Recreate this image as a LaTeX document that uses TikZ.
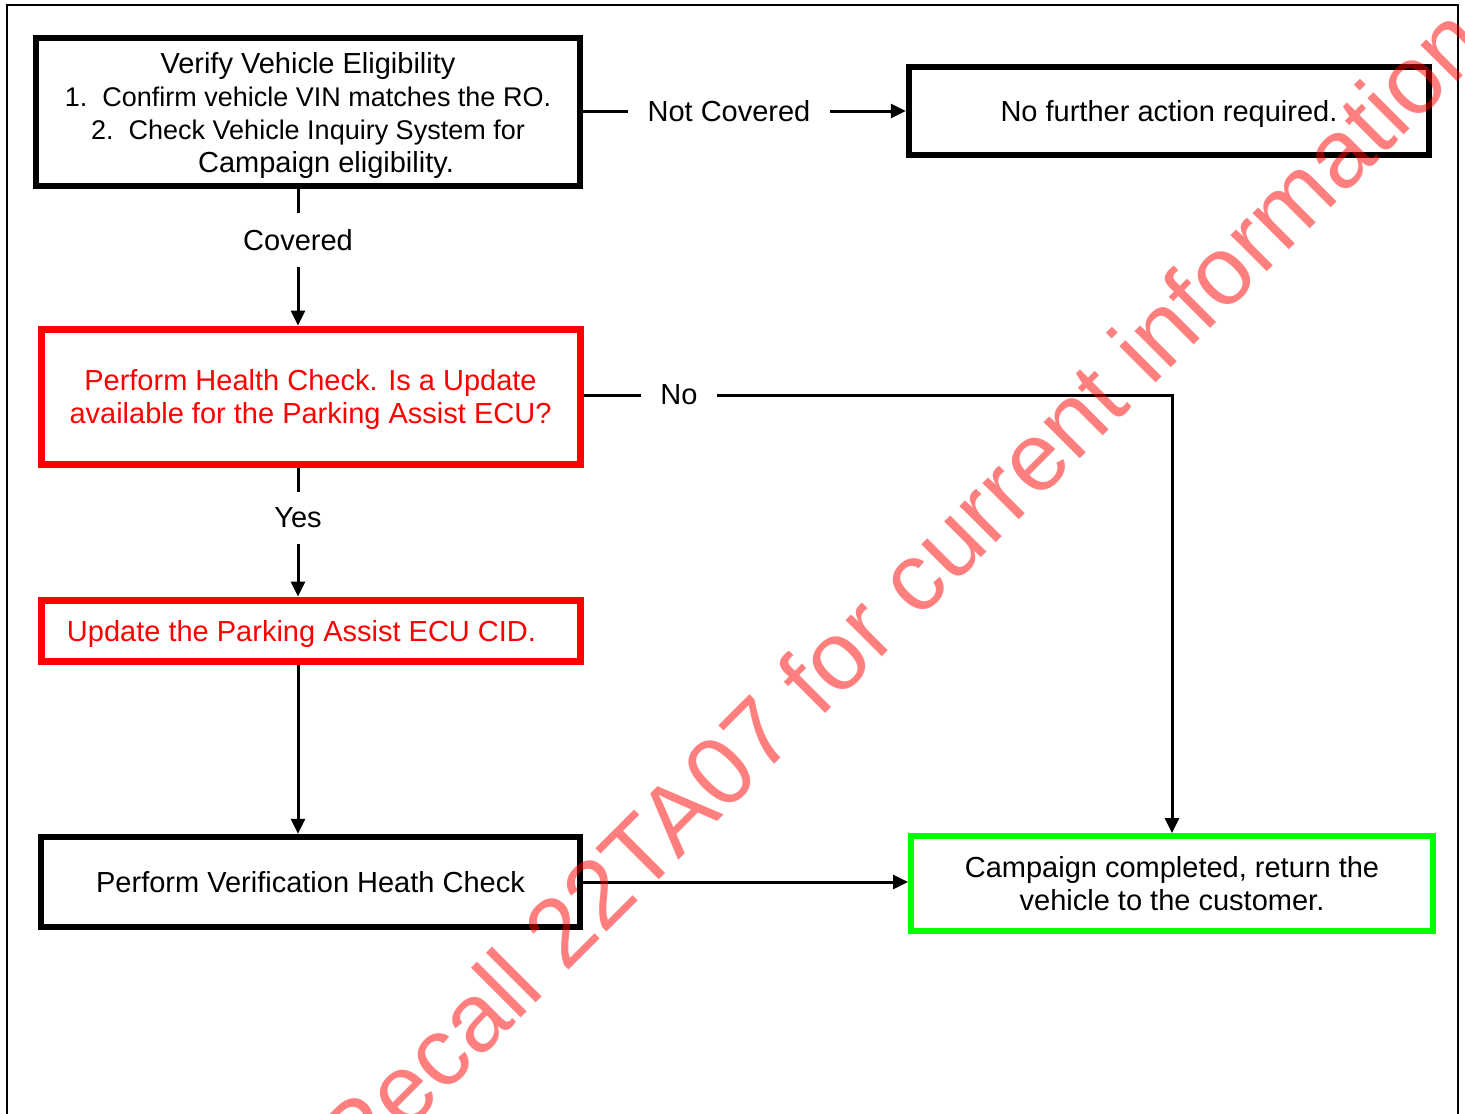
\documentclass[tikz,border=0pt]{standalone}
\usepackage{fontspec}
\setmainfont{Liberation Sans}
\usetikzlibrary{arrows.meta}
\definecolor{okgreen}{RGB}{0,255,0}

\begin{document}
\begin{tikzpicture}[x=1pt, y=-1pt,
	>={Triangle[length=15pt,width=14pt]},
	every node/.style={font=\fontsize{29}{33}\selectfont},
	box/.style={draw, line width=6.5pt, align=center, inner sep=0pt, text depth=0pt},
	redbox/.style={box, draw=red, text=red, line width=7pt},
	greenbox/.style={box, draw=okgreen, line width=6pt},
	lbl/.style={inner xsep=19pt, inner ysep=16pt},
	wire/.style={line width=3pt}]
	\useasboundingbox (0,0) rectangle (1465,1114);
	\clip (0,0) rectangle (1465,1114);
	\draw[line width=2pt] (7,5) rectangle (1458,1140);
	% Boxes and labels:
	\node[box, minimum width=544pt, minimum height=148pt] (verify) at (308,112)
		{Verify Vehicle Eligibility\\{\fontsize{27}{33}\selectfont 1.\ \ Confirm vehicle VIN matches the RO.}\\{\fontsize{27}{33}\selectfont 2.\ \ Check Vehicle Inquiry System for}\\\hspace*{36pt}Campaign eligibility.};
	\node[box, minimum width=520pt, minimum height=88pt] (nofurther) at (1169,111) {No further action required.};
	\node[redbox, minimum width=539pt, minimum height=135pt] (healthchk) at (310.5,396.5)
		{Perform Health Check. Is a Update\\available for the Parking Assist ECU?};
	\node[redbox, minimum width=539pt, minimum height=61pt] (update) at (310.5,630.5) {Update the Parking Assist ECU CID.\hspace*{18pt}};
	\node[box, minimum width=539pt, minimum height=90pt] (verifychk) at (310.5,882) {Perform Verification Heath Check};
	\node[greenbox, minimum width=522pt, minimum height=95pt] (complete) at (1172,883.5)
		{Campaign completed, return the\\vehicle to the customer.};
	\node[lbl] (notcov) at (729,111) {Not Covered};
	\node[lbl] (covered) at (298,240) {Covered};
	\node[lbl] (no) at (679,395) {No};
	\node[lbl] (yes) at (298,518) {Yes};
	% Wires:
	\draw[wire] (verify.east |- notcov) -- (notcov.west);
	\draw[wire, ->] (notcov.east) -- (nofurther.west |- notcov);
	\draw[wire] (verify.south -| covered) -- (covered.north);
	\draw[wire, ->] (covered.south) -- (healthchk.north -| covered);
	\draw[wire] (healthchk.east |- no) -- (no.west);
	\draw[wire, ->] (no.east) -| (complete.north);
	\draw[wire] (healthchk.south -| yes) -- (yes.north);
	\draw[wire, ->] (yes.south) -- (update.north -| yes);
	\draw[wire, ->] (update.south -| yes) -- (verifychk.north -| yes);
	\draw[wire, ->] (verifychk.east) -- (complete.west |- verifychk.east);
	% Watermark:
	\node[text=red, opacity=0.5, inner sep=0pt, font=\fontsize{97}{97}\selectfont, rotate=45, anchor=base west] (wmark) at (356,1183)
		{Recall 22TA07 for current information};
\end{tikzpicture}
\end{document}
